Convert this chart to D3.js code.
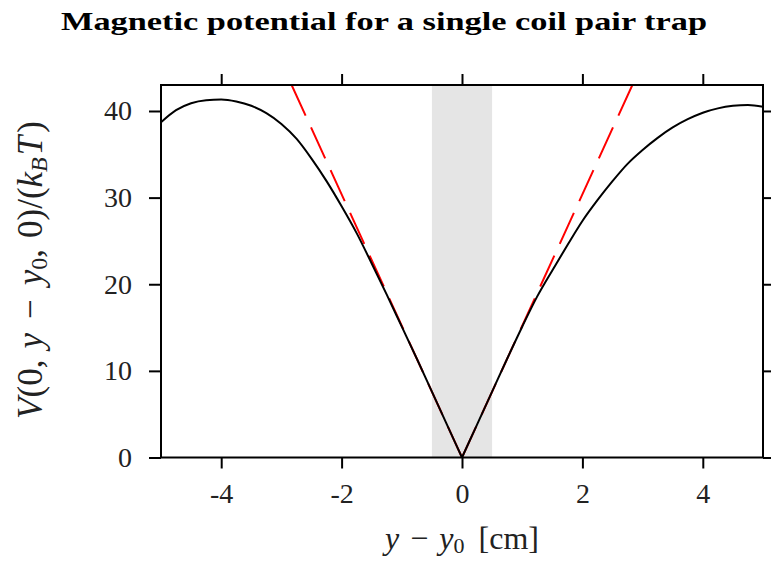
<!DOCTYPE html>
<html>
<head>
<meta charset="utf-8">
<script src="https://cdn.jsdelivr.net/npm/d3@7"></script>
<style>
  html, body { margin: 0; padding: 0; background: #fff; }
  svg { display: block; }
  text { font-family: "Liberation Serif", "DejaVu Serif", serif; fill: #222; }
</style>
</head>
<body>
<svg id="chart" width="771" height="563"></svg>
<script>
// ---- data ----
const curveY = [-5.0,-4.75,-4.5,-4.25,-4.0,-3.75,-3.5,-3.25,-3.0,-2.75,-2.5,-2.25,-2.0,-1.75,-1.5,-1.25,-1.0,-0.75,-0.5,-0.25,0,
                0.25,0.5,0.75,1.0,1.25,1.5,1.75,2.0,2.25,2.5,2.75,3.0,3.25,3.5,3.75,4.0,4.25,4.5,4.75,5.0];
const curveV = [38.7,40.1,40.9,41.25,41.33,41.1,40.6,39.75,38.5,36.8,34.5,31.9,29.0,25.9,22.4,18.8,15.1,11.4,7.6,3.8,0,
                3.8,7.6,11.4,15.1,18.6,21.6,24.5,27.3,29.7,31.9,33.9,35.5,36.9,38.1,39.05,39.8,40.3,40.6,40.7,40.5];
const linearY = [-2.83, 0, 2.83];
const linearV = [43, 0, 43];
const bandY = [-0.5, 0.5];
const xTicks = [-4, -2, 0, 2, 4];
const yTicks = [0, 10, 20, 30, 40];
const xDomain = [-5, 5];
const yDomain = [0, 43];

// ---- layout ----
const L = 161, R = 763, T = 85, B = 457.5;
const svg = d3.select("#chart");
const x = d3.scaleLinear().domain(xDomain).range([L, R]);
const y = d3.scaleLinear().domain(yDomain).range([B, T]);

svg.append("defs").append("clipPath").attr("id", "clip")
  .append("rect").attr("x", L).attr("y", T).attr("width", R - L).attr("height", B - T);

// title
svg.append("text")
  .attr("x", 384).attr("y", 30)
  .attr("text-anchor", "middle")
  .attr("font-size", 25).attr("font-weight", "bold")
  .attr("textLength", 646).attr("lengthAdjust", "spacingAndGlyphs")
  .style("fill", "#000")
  .text("Magnetic potential for a single coil pair trap");

const plot = svg.append("g").attr("clip-path", "url(#clip)");

// grey band
plot.append("rect")
  .attr("x", x(bandY[0])).attr("y", T)
  .attr("width", x(bandY[1]) - x(bandY[0])).attr("height", B - T)
  .attr("fill", "#e5e5e5");

// linear approximation (red dashed), drawn from the origin outwards
[[linearY[1], linearY[0]], [linearY[1], linearY[2]]].forEach((seg, k) => {
  const segPts = [[seg[0], linearV[1]], [seg[1], linearV[k === 0 ? 0 : 2]]];
  plot.append("path")
    .attr("d", d3.line().x(d => x(d[0])).y(d => y(d[1]))(segPts))
    .attr("fill", "none").attr("stroke", "#ff0000").attr("stroke-width", 2)
    .attr("stroke-dasharray", "34,13");
});

// potential curve: two smooth branches meeting in a sharp minimum at 0
const pts = curveY.map((v, i) => [v, curveV[i]]);
const leftPts = pts.filter(d => d[0] <= 0);
const rightPts = pts.filter(d => d[0] >= 0);
const lineGen = d3.line().curve(d3.curveMonotoneX).x(d => x(d[0])).y(d => y(d[1]));
plot.append("path")
  .attr("d", lineGen(leftPts) + lineGen(rightPts))
  .attr("fill", "none").attr("stroke", "#000").attr("stroke-width", 2);

// axes
function styleAxis(g) {
  g.select(".domain").remove();
  g.selectAll(".tick line").attr("stroke", "#000").attr("stroke-width", 2);
  g.selectAll(".tick text").attr("font-size", 28).style("font-family", "'Liberation Serif', serif").attr("fill", "#2a2a2a");
}
svg.append("g").attr("transform", `translate(0,${B})`)
  .call(d3.axisBottom(x).tickValues(xTicks).tickSize(11).tickPadding(15).tickFormat(d => String(d)))
  .call(styleAxis);
svg.append("g").attr("transform", `translate(0,${T})`)
  .call(d3.axisTop(x).tickValues(xTicks).tickSize(11).tickFormat(""))
  .call(styleAxis);
svg.append("g").attr("transform", `translate(${L},0)`)
  .call(d3.axisLeft(y).tickValues(yTicks).tickSize(12).tickPadding(17).tickFormat(d => String(d)))
  .call(styleAxis);
svg.append("g").attr("transform", `translate(${R},0)`)
  .call(d3.axisRight(y).tickValues(yTicks).tickSize(12).tickFormat(""))
  .call(styleAxis);

// frame
svg.append("rect").attr("x", L).attr("y", T).attr("width", R - L).attr("height", B - T)
  .attr("fill", "none").attr("stroke", "#000").attr("stroke-width", 2);

// x label
const xl = svg.append("text").attr("x", 462).attr("y", 549).attr("text-anchor", "middle")
  .attr("font-size", 32);
xl.append("tspan").attr("font-style", "italic").text("y");
xl.append("tspan").attr("dx", 11).text("\u2212");
xl.append("tspan").attr("dx", 11).attr("font-style", "italic").text("y");
xl.append("tspan").attr("font-size", 22).attr("dy", 4).text("0");
xl.append("tspan").attr("dy", -4).attr("dx", 14).text("[cm]");

// y label
const yl = svg.append("text").attr("transform", "translate(42,270) rotate(-90)")
  .attr("text-anchor", "middle").attr("font-size", 35);
yl.append("tspan").attr("font-style", "italic").text("V");
yl.append("tspan").text("(0,");
yl.append("tspan").attr("dx", 11).attr("font-style", "italic").text("y");
yl.append("tspan").attr("dx", 14).text("\u2212");
yl.append("tspan").attr("dx", 14).attr("font-style", "italic").text("y");
yl.append("tspan").attr("font-size", 24).attr("dy", 5).text("0");
yl.append("tspan").attr("dy", -5).text(",");
yl.append("tspan").attr("dx", 11).text("0)/(");
yl.append("tspan").attr("font-style", "italic").text("k");
yl.append("tspan").attr("font-style", "italic").attr("font-size", 24).attr("dy", 5).text("B");
yl.append("tspan").attr("font-style", "italic").attr("dy", -5).attr("dx", 2).text("T");
yl.append("tspan").attr("dx", 3).text(")");
</script>
</body>
</html>
